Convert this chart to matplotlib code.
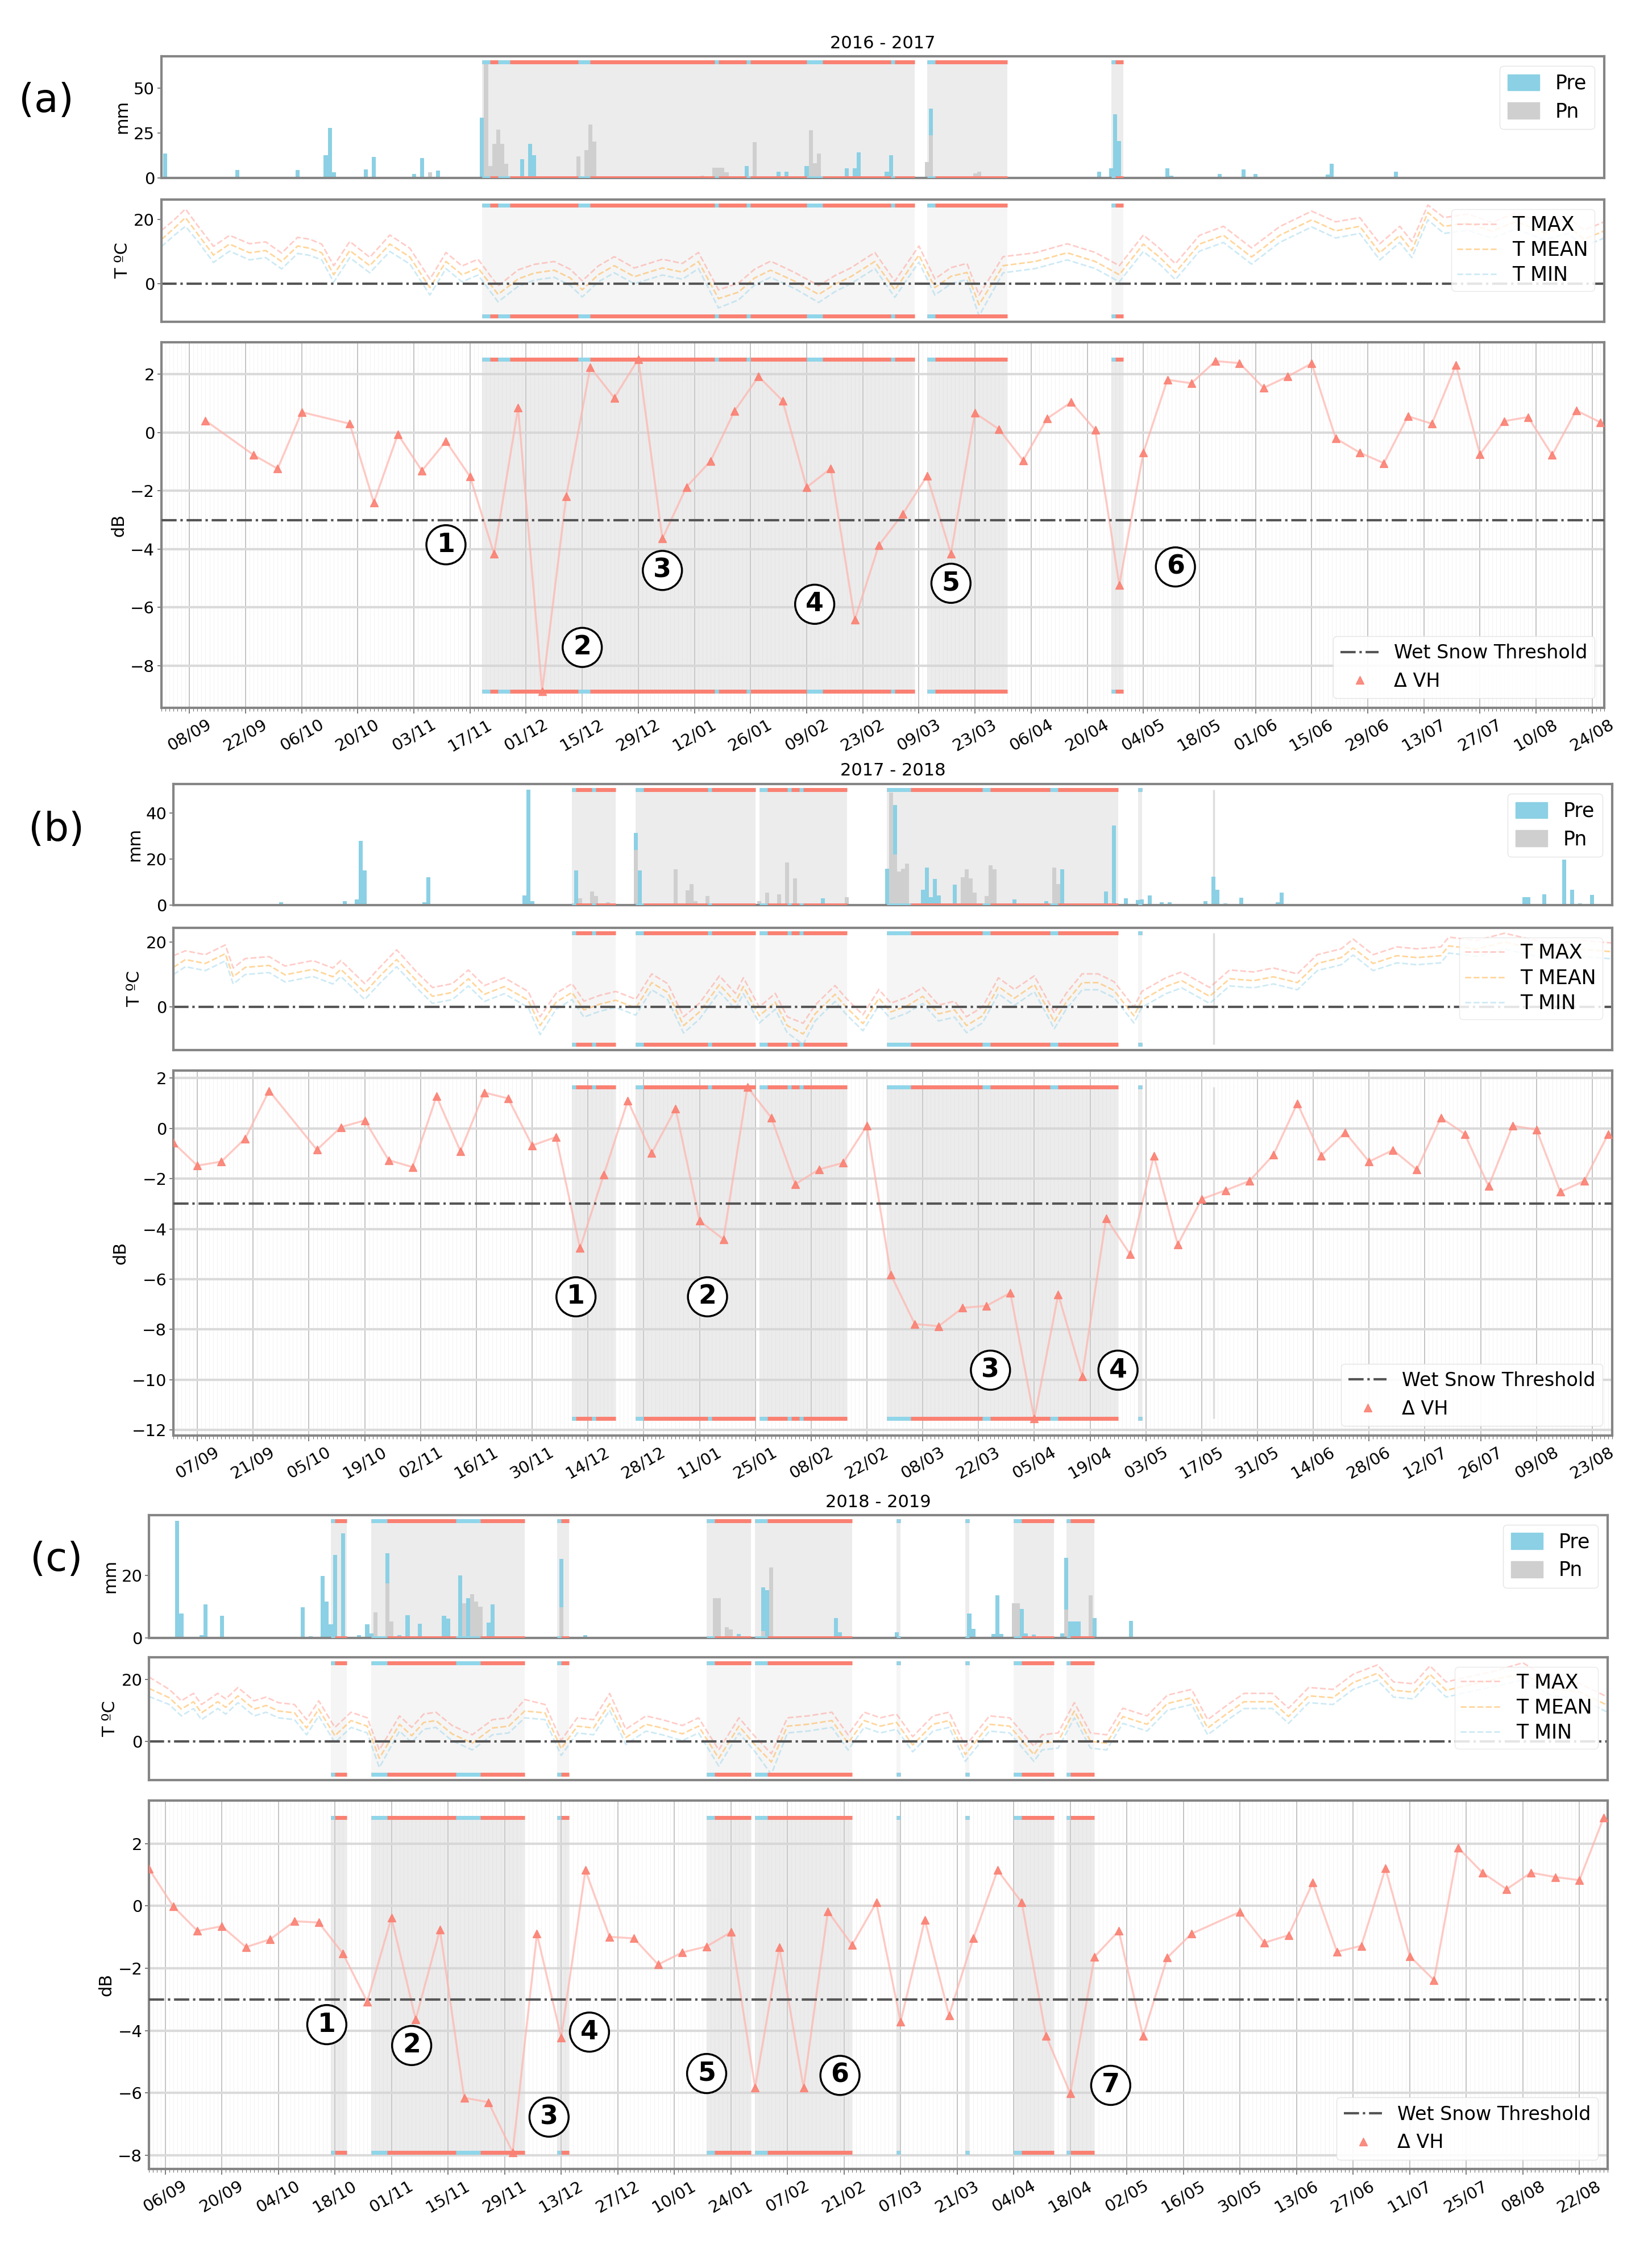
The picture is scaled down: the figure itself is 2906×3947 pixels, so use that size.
import matplotlib
matplotlib.use('Agg')
import matplotlib.pyplot as plt
import matplotlib.dates as mdates
from matplotlib.ticker import MultipleLocator, FixedLocator
from matplotlib.patches import Patch
from matplotlib.lines import Line2D
import pandas as pd

plt.rcParams['font.family'] = ['DejaVu Sans']

# ====================== DATA ======================
YEAR_TITLES = ['2016 - 2017', '2017 - 2018', '2018 - 2019']
PANEL_LABELS = ['(a)', '(b)', '(c)']
XLIMS = [('2016-09-01', '2017-08-27'), ('2017-09-01', '2018-08-28'), ('2018-09-02', '2019-08-29')]
TICK_STARTS = ['2016-09-08', '2017-09-07', '2018-09-06']
PRE_YTICKS = [[0, 25, 50], [0, 20, 40], [0, 20]]
T_YTICKS = [[0, 20], [0, 20], [0, 20]]
WET_SNOW_THRESHOLD = -3.0

# ---- (a) 2016-2017 ----
A_PRE_DATES = ['2016-09-02', '2016-09-20', '2016-10-05', '2016-10-12', '2016-10-13', '2016-10-14', '2016-10-22',
               '2016-10-24', '2016-11-03', '2016-11-05', '2016-11-09', '2016-11-20', '2016-11-30', '2016-12-02',
               '2016-12-03', '2017-01-25', '2017-02-02', '2017-02-04', '2017-02-09', '2017-02-19', '2017-02-21',
               '2017-02-22', '2017-03-01', '2017-03-02', '2017-03-12', '2017-04-23', '2017-04-26', '2017-04-27',
               '2017-04-28', '2017-05-10', '2017-05-11', '2017-05-23', '2017-05-29', '2017-06-01', '2017-06-19',
               '2017-06-20', '2017-07-06']
A_PRE = [13.6, 4.4, 4.4, 12.6, 27.7, 3.0, 4.7, 11.7, 2.0, 10.8, 3.9, 33.4, 10.4, 18.9, 12.6, 6.5, 3.5, 3.5, 6.5,
         5.3, 5.3, 14.1, 3.5, 12.6, 38.6, 3.3, 5.3, 35.4, 20.6, 5.3, 1.2, 2.1, 4.7, 2.0, 1.8, 7.9, 3.3]
A_PN_DATES = ['2016-11-07', '2016-11-21', '2016-11-22', '2016-11-23', '2016-11-24', '2016-11-25', '2016-11-26',
              '2016-12-14', '2016-12-16', '2016-12-17', '2016-12-18', '2017-01-14', '2017-01-17', '2017-01-18',
              '2017-01-19', '2017-01-20', '2017-01-27', '2017-02-10', '2017-02-11', '2017-02-12', '2017-03-11',
              '2017-03-12', '2017-03-23', '2017-03-24']
A_PN = [3.0, 64.5, 6.5, 19.0, 26.8, 19.0, 7.7, 12.0, 15.3, 29.7, 20.0, 1.0, 5.5, 5.5, 5.5, 3.0, 19.7, 26.5, 8.0,
        13.6, 8.8, 23.6, 2.4, 3.5]
A_T_DATES = ['2016-09-01', '2016-09-04', '2016-09-07', '2016-09-10', '2016-09-14', '2016-09-18', '2016-09-23',
             '2016-09-27', '2016-10-01', '2016-10-05', '2016-10-08', '2016-10-11', '2016-10-14', '2016-10-18',
             '2016-10-23', '2016-10-28', '2016-11-02', '2016-11-07', '2016-11-11', '2016-11-15', '2016-11-19',
             '2016-11-24', '2016-11-29', '2016-12-03', '2016-12-08', '2016-12-12', '2016-12-15', '2016-12-19',
             '2016-12-23', '2016-12-28', '2017-01-04', '2017-01-09', '2017-01-13', '2017-01-18', '2017-01-23',
             '2017-01-27', '2017-01-31', '2017-02-06', '2017-02-12', '2017-02-16', '2017-02-20', '2017-02-26',
             '2017-03-03', '2017-03-09', '2017-03-13', '2017-03-17', '2017-03-21', '2017-03-24', '2017-03-30',
             '2017-04-07', '2017-04-15', '2017-04-22', '2017-04-28', '2017-05-04', '2017-05-08', '2017-05-12',
             '2017-05-18', '2017-05-24', '2017-05-31', '2017-06-07', '2017-06-15', '2017-06-21', '2017-06-27',
             '2017-07-02', '2017-07-07', '2017-07-10', '2017-07-14', '2017-07-18', '2017-07-24', '2017-07-30',
             '2017-08-05', '2017-08-12', '2017-08-18', '2017-08-22', '2017-08-27']
A_TMAX = [16.5, 19.6, 23.2, 18.1, 11.6, 15.0, 12.4, 13.0, 9.5, 14.4, 13.8, 12.3, 5.6, 13.1, 8.2, 15.1, 11.0, 1.4,
          9.7, 5.5, 7.6, -0.7, 4.3, 6.0, 6.9, 4.5, 0.9, 5.5, 8.4, 4.9, 7.6, 6.3, 9.7, -1.9, 0.2, 4.5, 7.0, 3.5,
          -0.6, 2.5, 4.9, 9.7, 0.8, 11.7, 1.5, 5.0, 6.3, -3.5, 8.4, 9.6, 12.4, 9.7, 5.6, 15.1, 11.0, 6.2, 15.0,
          17.8, 11.1, 17.7, 22.5, 19.2, 20.5, 12.4, 17.8, 13.1, 24.4, 20.5, 21.6, 19.0, 22.0, 18.6, 20.5, 16.6, 19.2]
A_TMEAN = [13.7, 17.0, 20.5, 15.5, 8.9, 12.3, 9.6, 10.3, 6.9, 11.7, 11.0, 9.6, 2.8, 10.3, 5.6, 12.3, 8.3, -1.2,
           6.9, 2.8, 4.9, -3.3, 1.5, 3.3, 4.2, 1.8, -1.9, 2.8, 5.6, 2.2, 4.9, 3.6, 6.9, -4.6, -2.6, 1.8, 4.2, 0.8,
           -3.3, -0.2, 2.2, 6.9, -1.9, 8.9, -1.2, 2.3, 3.5, -6.5, 5.6, 6.9, 9.6, 6.9, 2.8, 12.3, 8.3, 3.5, 12.3,
           15.0, 8.3, 15.0, 19.8, 16.4, 17.8, 9.6, 15.0, 10.3, 22.1, 17.8, 18.8, 16.3, 19.3, 15.8, 17.8, 13.8, 16.4]
A_TMIN = [11.5, 14.8, 17.8, 13.3, 6.6, 10.1, 7.4, 8.1, 4.6, 9.4, 8.8, 7.4, 0.5, 8.1, 3.4, 10.0, 6.1, -3.5, 4.7,
          0.6, 2.7, -5.6, -0.8, 1.1, 2.0, -0.5, -4.1, 0.6, 3.4, 0.0, 2.7, 1.4, 4.7, -7.5, -5.0, -0.4, 2.0, -1.5,
          -5.8, -2.5, 0.0, 4.7, -4.2, 6.7, -3.5, 0.0, 1.3, -10.0, 3.4, 4.7, 7.4, 4.7, 0.6, 10.0, 6.1, 1.3, 10.1,
          12.8, 6.1, 12.8, 17.6, 14.2, 15.6, 7.4, 12.8, 8.1, 19.8, 15.6, 16.6, 14.1, 17.0, 13.6, 15.6, 11.6, 14.2]
A_S1_DATES = ['2016-09-12', '2016-09-24', '2016-09-30', '2016-10-06', '2016-10-18', '2016-10-24', '2016-10-30',
              '2016-11-05', '2016-11-11', '2016-11-17', '2016-11-23', '2016-11-29', '2016-12-05', '2016-12-11',
              '2016-12-17', '2016-12-23', '2016-12-29', '2017-01-04', '2017-01-10', '2017-01-16', '2017-01-22',
              '2017-01-28', '2017-02-03', '2017-02-09', '2017-02-15', '2017-02-21', '2017-02-27', '2017-03-05',
              '2017-03-11', '2017-03-17', '2017-03-23', '2017-03-29', '2017-04-04', '2017-04-10', '2017-04-16',
              '2017-04-22', '2017-04-28', '2017-05-04', '2017-05-10', '2017-05-16', '2017-05-22', '2017-05-28',
              '2017-06-03', '2017-06-09', '2017-06-15', '2017-06-21', '2017-06-27', '2017-07-03', '2017-07-09',
              '2017-07-15', '2017-07-21', '2017-07-27', '2017-08-02', '2017-08-08', '2017-08-14', '2017-08-20',
              '2017-08-26']
A_DVH = [0.41, -0.77, -1.24, 0.70, 0.30, -2.40, -0.06, -1.31, -0.30, -1.51, -4.16, 0.85, -8.87, -2.19, 2.24,
         1.19, 2.52, -3.64, -1.87, -0.98, 0.74, 1.92, 1.09, -1.88, -1.23, -6.42, -3.87, -2.79, -1.49, -4.15,
         0.67, 0.11, -0.96, 0.48, 1.04, 0.09, -5.23, -0.69, 1.81, 1.69, 2.45, 2.38, 1.53, 1.92, 2.37, -0.20,
         -0.69, -1.05, 0.56, 0.30, 2.32, -0.75, 0.39, 0.53, -0.77, 0.76, 0.35]
A_SNOW = [('2016-11-20', '2017-03-08'), ('2017-03-11', '2017-03-31'), ('2017-04-26', '2017-04-29')]
A_CYAN = [('2016-11-20', '2016-11-22'), ('2016-11-24', '2016-11-27'), ('2016-12-14', '2016-12-17'),
          ('2017-01-17', '2017-01-18'), ('2017-01-25', '2017-01-26'), ('2017-02-09', '2017-02-13'),
          ('2017-03-02', '2017-03-03'), ('2017-03-11', '2017-03-13'), ('2017-04-26', '2017-04-27')]
A_FAINT = []
A_CIRCLES = [('1', '2016-11-11', -3.85), ('2', '2016-12-15', -7.37), ('3', '2017-01-04', -4.73),
             ('4', '2017-02-11', -5.89), ('5', '2017-03-17', -5.17), ('6', '2017-05-12', -4.61)]

# ---- (b) 2017-2018 ----
B_PRE_DATES = ['2017-09-28', '2017-10-02', '2017-10-14', '2017-10-17', '2017-10-18', '2017-10-19', '2017-11-03',
               '2017-11-04', '2017-11-28', '2017-11-29', '2017-11-30', '2017-12-11', '2017-12-26', '2017-12-27',
               '2018-02-11', '2018-02-27', '2018-03-01', '2018-03-08', '2018-03-09', '2018-03-10', '2018-03-11',
               '2018-03-12', '2018-03-16', '2018-03-31', '2018-04-08', '2018-04-12', '2018-04-23', '2018-04-25',
               '2018-04-28', '2018-05-01', '2018-05-02', '2018-05-04', '2018-05-07', '2018-05-09', '2018-05-18',
               '2018-05-20', '2018-05-21', '2018-05-23', '2018-05-27', '2018-06-05', '2018-06-06', '2018-08-06',
               '2018-08-07', '2018-08-11', '2018-08-16', '2018-08-18', '2018-08-20', '2018-08-23']
B_PRE = [1.1, 0.4, 1.8, 2.5, 27.8, 15.0, 1.3, 12.1, 4.2, 50.2, 1.7, 15.1, 31.4, 15.0, 2.9, 15.9, 43.5, 6.7,
         16.3, 3.3, 11.3, 4.2, 8.8, 2.5, 1.7, 15.6, 5.9, 34.6, 2.9, 2.1, 2.5, 4.2, 1.1, 1.1, 1.7, 12.3, 6.7, 0.8,
         3.1, 1.3, 5.3, 3.3, 3.3, 4.6, 19.7, 6.7, 0.8, 4.4]
B_PN_DATES = ['2017-12-12', '2017-12-15', '2017-12-16', '2017-12-19', '2017-12-26', '2018-01-05', '2018-01-08',
              '2018-01-09', '2018-01-10', '2018-01-13', '2018-01-26', '2018-01-28', '2018-01-31', '2018-02-02',
              '2018-02-04', '2018-02-17', '2018-02-28', '2018-03-01', '2018-03-02', '2018-03-03', '2018-03-04',
              '2018-03-18', '2018-03-19', '2018-03-20', '2018-03-21', '2018-03-24', '2018-03-25', '2018-03-26',
              '2018-04-10', '2018-04-11']
B_PN = [3.0, 5.9, 3.8, 1.3, 24.0, 15.6, 6.3, 9.2, 1.7, 3.8, 1.7, 5.3, 4.6, 18.4, 11.5, 3.3, 49.0, 22.0, 14.6,
        15.9, 18.0, 12.1, 15.6, 11.5, 5.4, 3.8, 17.2, 15.6, 16.3, 9.2]
B_T_DATES = ['2017-09-01', '2017-09-04', '2017-09-09', '2017-09-14', '2017-09-16', '2017-09-19', '2017-09-25',
             '2017-09-29', '2017-10-06', '2017-10-11', '2017-10-13', '2017-10-19', '2017-10-23', '2017-10-27',
             '2017-11-01', '2017-11-05', '2017-11-10', '2017-11-14', '2017-11-18', '2017-11-23', '2017-11-29',
             '2017-12-02', '2017-12-06', '2017-12-10', '2017-12-13', '2017-12-17', '2017-12-21', '2017-12-26',
             '2017-12-30', '2018-01-03', '2018-01-07', '2018-01-11', '2018-01-16', '2018-01-20', '2018-01-22',
             '2018-01-26', '2018-01-30', '2018-02-02', '2018-02-06', '2018-02-09', '2018-02-14', '2018-02-17',
             '2018-02-21', '2018-02-25', '2018-02-28', '2018-03-04', '2018-03-08', '2018-03-12', '2018-03-16',
             '2018-03-19', '2018-03-23', '2018-03-27', '2018-03-31', '2018-04-05', '2018-04-09', '2018-04-10',
             '2018-04-13', '2018-04-17', '2018-04-21', '2018-04-25', '2018-04-30', '2018-05-02', '2018-05-08',
             '2018-05-12', '2018-05-19', '2018-05-24', '2018-05-30', '2018-06-04', '2018-06-10', '2018-06-15',
             '2018-06-21', '2018-06-24', '2018-06-29', '2018-07-05', '2018-07-10', '2018-07-16', '2018-07-18',
             '2018-07-25', '2018-08-01', '2018-08-07', '2018-08-14', '2018-08-20', '2018-08-28']
B_TMAX = [15.8, 17.3, 16.1, 19.1, 12.0, 14.9, 15.5, 12.6, 14.3, 12.0, 14.3, 7.2, 12.5, 17.6, 10.8, 6.0, 7.2,
          11.4, 6.6, 9.0, 4.8, -3.0, 4.2, 7.2, 1.8, 3.6, 4.8, 2.4, 10.2, 7.2, -3.0, 1.2, 9.6, 4.2, 9.0, 0.0, 4.2,
          -3.0, -5.0, 0.6, 6.6, 2.4, -2.4, 5.4, 1.2, 3.0, 6.0, 0.6, 1.8, -3.0, 0.0, 9.0, 5.4, 9.6, 0.6, -1.8,
          4.2, 10.2, 10.2, 7.8, 0.0, 4.8, 9.0, 10.8, 6.0, 11.4, 10.8, 12.0, 10.2, 16.1, 17.9, 20.9, 16.1, 18.5,
          17.9, 18.5, 21.5, 20.5, 22.7, 21.0, 19.5, 20.5, 19.7]
B_TMEAN = [12.2, 14.6, 13.4, 16.4, 9.3, 12.2, 12.8, 9.9, 11.6, 9.3, 11.6, 4.5, 9.8, 14.6, 8.1, 3.3, 4.5, 8.7,
           3.9, 6.3, 2.1, -5.7, 1.5, 4.5, -0.9, 0.9, 2.1, -0.3, 7.5, 4.5, -5.7, -1.5, 6.9, 1.5, 6.3, -2.7, 1.5,
           -5.7, -8.3, -2.1, 3.9, -0.3, -5.1, 2.7, -1.5, 0.3, 3.3, -2.1, -0.9, -5.7, -2.7, 6.3, 2.7, 6.9, -2.1,
           -4.5, 1.5, 7.5, 7.5, 5.1, -2.7, 2.1, 6.3, 8.1, 3.3, 8.7, 8.1, 9.3, 7.5, 13.4, 15.2, 18.2, 13.4, 15.8,
           15.2, 15.8, 18.8, 17.8, 20.0, 18.3, 16.8, 17.8, 17.0]
B_TMIN = [10.0, 12.4, 11.2, 14.2, 7.1, 10.0, 10.6, 7.7, 9.4, 7.1, 9.4, 2.3, 7.6, 12.4, 5.9, 1.1, 2.3, 6.5, 1.7,
          4.1, -0.1, -8.5, -0.7, 2.3, -3.1, -1.3, -0.1, -2.5, 5.3, 2.3, -8.0, -3.7, 4.7, -0.7, 4.1, -4.9, -0.7,
          -7.9, -11.5, -4.3, 1.7, -2.5, -7.3, 0.5, -3.7, -1.9, 1.1, -4.3, -3.1, -7.9, -4.9, 4.1, 0.5, 4.7, -4.3,
          -6.7, -0.7, 5.3, 5.3, 2.9, -4.9, -0.1, 4.1, 5.9, 1.1, 6.5, 5.9, 7.1, 5.3, 11.2, 13.0, 16.0, 11.2, 13.6,
          13.0, 13.6, 16.6, 15.6, 17.8, 16.1, 14.6, 15.6, 14.8]
B_S1_DATES = ['2017-09-01', '2017-09-07', '2017-09-13', '2017-09-19', '2017-09-25', '2017-10-07', '2017-10-13',
              '2017-10-19', '2017-10-25', '2017-10-31', '2017-11-06', '2017-11-12', '2017-11-18', '2017-11-24',
              '2017-11-30', '2017-12-06', '2017-12-12', '2017-12-18', '2017-12-24', '2017-12-30', '2018-01-05',
              '2018-01-11', '2018-01-17', '2018-01-23', '2018-01-29', '2018-02-04', '2018-02-10', '2018-02-16',
              '2018-02-22', '2018-02-28', '2018-03-06', '2018-03-12', '2018-03-18', '2018-03-24', '2018-03-30',
              '2018-04-05', '2018-04-11', '2018-04-17', '2018-04-23', '2018-04-29', '2018-05-05', '2018-05-11',
              '2018-05-17', '2018-05-23', '2018-05-29', '2018-06-04', '2018-06-10', '2018-06-16', '2018-06-22',
              '2018-06-28', '2018-07-04', '2018-07-10', '2018-07-16', '2018-07-22', '2018-07-28', '2018-08-03',
              '2018-08-09', '2018-08-15', '2018-08-21', '2018-08-27']
B_DVH = [-0.57, -1.48, -1.32, -0.40, 1.50, -0.85, 0.05, 0.32, -1.26, -1.54, 1.28, -0.90, 1.43, 1.19, -0.68,
         -0.34, -4.76, -1.83, 1.10, -0.98, 0.79, -3.68, -4.41, 1.65, 0.43, -2.22, -1.63, -1.37, 0.11, -5.82,
         -7.78, -7.87, -7.14, -7.06, -6.54, -11.55, -6.60, -9.87, -3.57, -5.00, -1.08, -4.62, -2.81, -2.46,
         -2.09, -1.05, 1.00, -1.08, -0.16, -1.32, -0.86, -1.64, 0.43, -0.22, -2.30, 0.11, -0.05, -2.52, -2.09,
         -0.22]
B_SNOW = [('2017-12-10', '2017-12-21'), ('2017-12-26', '2018-01-25'), ('2018-01-26', '2018-02-17'),
          ('2018-02-27', '2018-04-26'), ('2018-05-01', '2018-05-02')]
B_CYAN = [('2017-12-10', '2017-12-11'), ('2017-12-15', '2017-12-16'), ('2017-12-26', '2017-12-28'),
          ('2018-01-13', '2018-01-14'), ('2018-01-26', '2018-01-28'), ('2018-02-02', '2018-02-03'),
          ('2018-02-05', '2018-02-06'), ('2018-02-27', '2018-03-05'), ('2018-03-23', '2018-03-25'),
          ('2018-04-09', '2018-04-11'), ('2018-05-01', '2018-05-02')]
B_FAINT = ['2018-05-20']
B_CIRCLES = [('1', '2017-12-11', -6.7), ('2', '2018-01-13', -6.7), ('3', '2018-03-25', -9.62),
             ('4', '2018-04-26', -9.62)]

# ---- (c) 2018-2019 ----
C_PRE_DATES = ['2018-09-09', '2018-09-10', '2018-09-15', '2018-09-16', '2018-09-20', '2018-10-10', '2018-10-12',
               '2018-10-15', '2018-10-16', '2018-10-17', '2018-10-18', '2018-10-20', '2018-10-24', '2018-10-26',
               '2018-10-27', '2018-10-31', '2018-11-03', '2018-11-05', '2018-11-08', '2018-11-14', '2018-11-15',
               '2018-11-18', '2018-11-20', '2018-11-25', '2018-11-26', '2018-12-13', '2018-12-19', '2019-01-20',
               '2019-01-26', '2019-02-01', '2019-02-02', '2019-02-19', '2019-02-20', '2019-03-06', '2019-03-24',
               '2019-03-25', '2019-03-30', '2019-03-31', '2019-04-01', '2019-04-06', '2019-04-07', '2019-04-09',
               '2019-04-16', '2019-04-17', '2019-04-18', '2019-04-19', '2019-04-20', '2019-04-23', '2019-04-24',
               '2019-05-03', '2019-07-20', '2019-07-27']
C_PRE = [37.5, 7.9, 0.9, 10.7, 7.0, 9.8, 0.5, 19.8, 11.6, 4.3, 26.6, 33.5, 0.9, 4.3, 1.5, 27.1, 0.9, 7.3, 4.6,
         7.1, 6.1, 20.1, 12.8, 4.9, 10.7, 25.3, 0.9, 6.4, 1.2, 16.2, 15.2, 6.4, 1.8, 1.8, 7.9, 2.9, 1.2, 13.7,
         1.2, 9.3, 1.4, 1.0, 1.5, 25.6, 5.2, 5.2, 5.2, 6.4, 6.4, 5.5, 0.3, 0.4]
C_PN_DATES = ['2018-10-28', '2018-10-31', '2018-11-01', '2018-11-19', '2018-11-21', '2018-11-22', '2018-11-23',
              '2018-12-13', '2019-01-20', '2019-01-21', '2019-01-23', '2019-01-24', '2019-02-01', '2019-02-03',
              '2019-04-04', '2019-04-05', '2019-04-17', '2019-04-23']
C_PN = [8.2, 17.4, 5.2, 11.0, 14.0, 11.6, 10.0, 9.8, 12.8, 12.8, 3.4, 2.7, 2.1, 22.6, 11.0, 11.0, 9.1, 13.7]
C_T_DATES = ['2018-09-02', '2018-09-07', '2018-09-10', '2018-09-13', '2018-09-15', '2018-09-19', '2018-09-21',
             '2018-09-24', '2018-09-28', '2018-10-01', '2018-10-04', '2018-10-08', '2018-10-11', '2018-10-14',
             '2018-10-18', '2018-10-22', '2018-10-26', '2018-10-29', '2018-11-03', '2018-11-06', '2018-11-09',
             '2018-11-12', '2018-11-16', '2018-11-21', '2018-11-26', '2018-11-30', '2018-12-04', '2018-12-09',
             '2018-12-13', '2018-12-17', '2018-12-21', '2018-12-25', '2018-12-29', '2019-01-03', '2019-01-07',
             '2019-01-12', '2019-01-16', '2019-01-21', '2019-01-26', '2019-01-30', '2019-02-03', '2019-02-07',
             '2019-02-12', '2019-02-18', '2019-02-22', '2019-02-26', '2019-03-02', '2019-03-06', '2019-03-10',
             '2019-03-15', '2019-03-19', '2019-03-23', '2019-03-29', '2019-04-03', '2019-04-09', '2019-04-11',
             '2019-04-15', '2019-04-19', '2019-04-23', '2019-04-27', '2019-05-01', '2019-05-07', '2019-05-12',
             '2019-05-18', '2019-05-22', '2019-05-27', '2019-05-31', '2019-06-07', '2019-06-11', '2019-06-16',
             '2019-06-22', '2019-06-27', '2019-07-03', '2019-07-07', '2019-07-12', '2019-07-16', '2019-07-20',
             '2019-07-25', '2019-08-01', '2019-08-08', '2019-08-15', '2019-08-22', '2019-08-29']
C_TMAX = [20.8, 16.8, 13.1, 15.5, 11.9, 15.5, 13.7, 17.4, 13.1, 14.3, 12.5, 11.9, 7.0, 13.1, 4.5, 9.4, 7.6,
          -2.8, 8.2, 4.5, 8.8, 9.4, 5.1, 2.1, 7.0, 7.6, 13.5, 11.9, 0.3, 7.6, 7.0, 15.5, 3.9, 8.2, 7.0, 5.1, 7.6,
          -2.8, 7.6, 1.5, -4.0, 7.6, 8.2, 9.4, 2.1, 9.4, 7.6, 8.8, 1.5, 8.2, 9.4, -1.6, 8.2, 7.6, -1.6, 2.1, 2.7,
          12.5, 2.7, 2.1, 10.7, 8.2, 14.9, 16.8, 7.0, 11.9, 15.5, 15.5, 10.7, 17.4, 16.8, 21.7, 24.7, 19.2, 18.6,
          24.4, 19.2, 20.7, 22.7, 25.4, 19.7, 18.7, 14.3]
C_TMEAN = [17.1, 14.1, 10.4, 12.8, 9.2, 12.8, 11.0, 14.7, 10.4, 11.6, 9.8, 9.2, 4.3, 10.4, 1.8, 6.7, 4.9, -5.5,
           5.5, 1.8, 6.1, 6.7, 2.4, -0.6, 4.3, 4.9, 9.8, 9.2, -2.4, 4.9, 4.3, 12.2, 1.2, 5.5, 4.3, 2.4, 4.9, -5.5,
           4.9, -1.2, -6.7, 4.9, 5.5, 6.7, -0.6, 6.7, 4.9, 6.1, -1.2, 5.5, 6.7, -4.3, 5.5, 4.9, -4.3, -0.6, 0.0,
           9.8, 0.0, -0.6, 8.0, 5.5, 12.2, 14.1, 4.3, 9.2, 12.8, 12.8, 8.0, 14.7, 14.1, 19.0, 22.0, 16.5, 15.9,
           21.7, 16.5, 18.0, 20.0, 22.0, 17.0, 16.0, 11.6]
C_TMIN = [14.5, 11.9, 8.2, 10.6, 7.0, 10.6, 8.8, 12.5, 8.2, 9.4, 7.6, 7.0, 2.1, 8.2, -0.4, 4.5, 2.7, -8.5, 3.3,
          -0.4, 3.9, 4.5, 0.2, -2.8, 2.1, 2.7, 7.6, 7.0, -4.6, 2.7, 2.1, 10.0, -1.0, 3.3, 2.1, 0.2, 2.7, -8.0,
          2.7, -3.4, -10.7, 2.7, 3.3, 4.5, -2.8, 4.5, 2.7, 3.9, -3.4, 3.3, 4.5, -6.5, 3.3, 2.7, -6.5, -2.8, -2.2,
          7.6, -2.2, -2.8, 5.8, 3.3, 10.0, 11.9, 2.1, 7.0, 10.6, 10.6, 5.8, 12.5, 11.9, 16.8, 19.8, 14.3, 13.7,
          19.5, 14.3, 15.8, 17.8, 19.8, 14.8, 13.8, 9.4]
C_S1_DATES = ['2018-09-02', '2018-09-08', '2018-09-14', '2018-09-20', '2018-09-26', '2018-10-02', '2018-10-08',
              '2018-10-14', '2018-10-20', '2018-10-26', '2018-11-01', '2018-11-07', '2018-11-13', '2018-11-19',
              '2018-11-25', '2018-12-01', '2018-12-07', '2018-12-13', '2018-12-19', '2018-12-25', '2018-12-31',
              '2019-01-06', '2019-01-12', '2019-01-18', '2019-01-24', '2019-01-30', '2019-02-05', '2019-02-11',
              '2019-02-17', '2019-02-23', '2019-03-01', '2019-03-07', '2019-03-13', '2019-03-19', '2019-03-25',
              '2019-03-31', '2019-04-06', '2019-04-12', '2019-04-18', '2019-04-24', '2019-04-30', '2019-05-06',
              '2019-05-12', '2019-05-18', '2019-05-30', '2019-06-05', '2019-06-11', '2019-06-17', '2019-06-23',
              '2019-06-29', '2019-07-05', '2019-07-11', '2019-07-17', '2019-07-23', '2019-07-29', '2019-08-04',
              '2019-08-10', '2019-08-16', '2019-08-22', '2019-08-28']
C_DVH = [1.19, -0.01, -0.80, -0.65, -1.32, -1.07, -0.49, -0.53, -1.53, -3.07, -0.37, -3.64, -0.76, -6.16,
         -6.30, -7.91, -0.89, -4.22, 1.15, -0.99, -1.04, -1.88, -1.49, -1.30, -0.84, -5.83, -1.32, -5.84, -0.17,
         -1.25, 0.11, -3.72, -0.44, -3.51, -1.04, 1.15, 0.11, -4.17, -6.02, -1.63, -0.80, -4.18, -1.66, -0.89,
         -0.19, -1.18, -0.94, 0.75, -1.47, -1.28, 1.21, -1.61, -2.38, 1.87, 1.07, 0.54, 1.07, 0.93, 0.83, 2.84]
C_SNOW = [('2018-10-17', '2018-10-21'), ('2018-10-27', '2018-12-04'), ('2018-12-12', '2018-12-15'),
          ('2019-01-18', '2019-01-29'), ('2019-01-30', '2019-02-23'), ('2019-03-06', '2019-03-07'),
          ('2019-03-23', '2019-03-24'), ('2019-04-04', '2019-04-14'), ('2019-04-17', '2019-04-24')]
C_CYAN = [('2018-10-17', '2018-10-18'), ('2018-10-27', '2018-10-31'), ('2018-11-17', '2018-11-23'),
          ('2018-12-12', '2018-12-13'), ('2019-01-18', '2019-01-20'), ('2019-01-30', '2019-02-02'),
          ('2019-03-06', '2019-03-07'), ('2019-03-23', '2019-03-24'), ('2019-04-04', '2019-04-06'),
          ('2019-04-17', '2019-04-18')]
C_FAINT = []
C_CIRCLES = [('1', '2018-10-16', -3.81), ('2', '2018-11-06', -4.48), ('3', '2018-12-10', -6.78),
             ('4', '2018-12-20', -4.05), ('5', '2019-01-18', -5.38), ('6', '2019-02-20', -5.44),
             ('7', '2019-04-28', -5.76)]

# ====================== STYLE / LAYOUT ======================
COL_PRE = '#8bd0e4'
COL_PN = '#cfcfcf'
COL_RED = '#fa8072'
COL_CYAN = '#8fd6ea'
COL_SHADE = '#d3d3d3'
COL_TMAX = '#ff8f84'
COL_TMEAN = '#ffae3a'
COL_TMIN = '#84cbe6'
COL_DASH = '#555555'
COL_SPINE = '#858585'
FS_TICK = 21
FS_LAB = 22
FS_LEG = 25

RECTS = [
    [(0.0977, 0.9208, 0.8734, 0.0542), (0.0977, 0.8567, 0.8734, 0.0544), (0.0977, 0.6846, 0.8734, 0.1628)],
    [(0.1050, 0.5967, 0.8709, 0.0540), (0.1050, 0.5321, 0.8709, 0.0545), (0.1050, 0.3604, 0.8709, 0.1626)],
    [(0.0902, 0.2701, 0.8830, 0.0548), (0.0902, 0.2068, 0.8830, 0.0547), (0.0902, 0.0334, 0.8830, 0.1641)],
]
TITLE_Y = [0.9807, 0.6567, 0.3304]
LABEL_XY = [(0.028, 0.955), (0.034, 0.6303), (0.034, 0.3049)]

PANELS = [
    dict(pre_d=A_PRE_DATES, pre=A_PRE, pn_d=A_PN_DATES, pn=A_PN, t_d=A_T_DATES, tmax=A_TMAX, tmean=A_TMEAN,
         tmin=A_TMIN, s1_d=A_S1_DATES, dvh=A_DVH, snow=A_SNOW, cyan=A_CYAN, faint=A_FAINT, circles=A_CIRCLES),
    dict(pre_d=B_PRE_DATES, pre=B_PRE, pn_d=B_PN_DATES, pn=B_PN, t_d=B_T_DATES, tmax=B_TMAX, tmean=B_TMEAN,
         tmin=B_TMIN, s1_d=B_S1_DATES, dvh=B_DVH, snow=B_SNOW, cyan=B_CYAN, faint=B_FAINT, circles=B_CIRCLES),
    dict(pre_d=C_PRE_DATES, pre=C_PRE, pn_d=C_PN_DATES, pn=C_PN, t_d=C_T_DATES, tmax=C_TMAX, tmean=C_TMEAN,
         tmin=C_TMIN, s1_d=C_S1_DATES, dvh=C_DVH, snow=C_SNOW, cyan=C_CYAN, faint=C_FAINT, circles=C_CIRCLES),
]


def style_axes(ax):
    for s in ax.spines.values():
        s.set_color(COL_SPINE)
        s.set_linewidth(3)
    ax.tick_params(axis='y', labelsize=FS_TICK, length=5, width=1.2, color='#666666')
    ax.set_facecolor('white')


def draw_band(ax, snow, cyan, faint, lo, hi, alpha):
    for s, e in snow:
        s, e = pd.Timestamp(s), pd.Timestamp(e)
        ax.fill_between([s, e], [lo, lo], [hi, hi], color=COL_SHADE, alpha=alpha, lw=0, zorder=1)
        ax.hlines([lo, hi], s, e, colors=COL_RED, lw=5, zorder=3)
    for s, e in cyan:
        ax.hlines([lo, hi], pd.Timestamp(s), pd.Timestamp(e), colors=COL_CYAN, lw=5, zorder=3.1)
    for f in faint:
        ax.vlines(pd.Timestamp(f), lo, hi, colors='#dedede', lw=2.5, zorder=1)


W, H = 2906, 3947
fig = plt.figure(figsize=(W / 100, H / 100), dpi=100)

for i, P in enumerate(PANELS):
    x0, x1 = pd.Timestamp(XLIMS[i][0]), pd.Timestamp(XLIMS[i][1])
    ticks = pd.date_range(TICK_STARTS[i], x1, freq='14D')

    # ---------- precipitation ----------
    axp = fig.add_axes(RECTS[i][0])
    style_axes(axp)
    axp.bar(pd.to_datetime(P['pre_d']), P['pre'], width=1.0, color=COL_PRE, label='Pre', zorder=2)
    axp.bar(pd.to_datetime(P['pn_d']), P['pn'], width=1.0, color=COL_PN, label='Pn', zorder=2.1)
    hi = max(max(P['pre']), max(P['pn']))
    draw_band(axp, P['snow'], P['cyan'], P['faint'], 0, hi, 0.42)
    axp.set_xlim(x0, x1)
    axp.set_ylim(0, hi * 1.05)
    axp.set_xticks([])
    axp.yaxis.set_major_locator(FixedLocator(PRE_YTICKS[i]))
    axp.set_ylabel('mm', fontsize=FS_LAB)
    axp.legend(handles=[Patch(color=COL_PRE, label='Pre'), Patch(color=COL_PN, label='Pn')],
               loc='upper right', fontsize=FS_LEG, frameon=True, edgecolor='#e2e2e2', framealpha=0.9,
               handlelength=1.6, handleheight=0.9, labelspacing=0.45)

    # ---------- temperature ----------
    axt = fig.add_axes(RECTS[i][1])
    style_axes(axt)
    td = pd.to_datetime(P['t_d'])
    axt.plot(td, P['tmax'], ls='--', color=COL_TMAX, alpha=0.45, lw=2, label='T MAX', zorder=2)
    axt.plot(td, P['tmean'], ls='--', color=COL_TMEAN, alpha=0.5, lw=2, label='T MEAN', zorder=2)
    axt.plot(td, P['tmin'], ls='--', color=COL_TMIN, alpha=0.4, lw=2, label='T MIN', zorder=2)
    axt.axhline(0, ls='-.', color=COL_DASH, lw=3, zorder=2.5)
    tlo, thi = min(P['tmin']), max(P['tmax'])
    draw_band(axt, P['snow'], P['cyan'], P['faint'], tlo, thi, 0.22)
    axt.set_xlim(x0, x1)
    pad = 0.05 * (thi - tlo)
    axt.set_ylim(tlo - pad, thi + pad)
    axt.set_xticks([])
    axt.yaxis.set_major_locator(FixedLocator(T_YTICKS[i]))
    axt.set_ylabel('T ºC', fontsize=FS_LAB)
    axt.legend(loc='upper right', fontsize=FS_LEG, frameon=True, edgecolor='#e6e6e6', framealpha=0.85,
               handlelength=2.0, labelspacing=0.3, borderpad=0.3)

    # ---------- backscatter ----------
    axd = fig.add_axes(RECTS[i][2])
    style_axes(axd)
    axd.set_axisbelow(True)
    sd = pd.to_datetime(P['s1_d'])
    dlo, dhi = min(P['dvh']), max(P['dvh'])
    draw_band(axd, P['snow'], P['cyan'], P['faint'], dlo, dhi, 0.42)
    axd.plot(sd, P['dvh'], color='#ffb3ac', lw=2.5, alpha=0.7, zorder=4)
    axd.plot(sd, P['dvh'], ls='none', marker='^', ms=10, color=COL_RED, alpha=0.9, zorder=5)
    axd.axhline(WET_SNOW_THRESHOLD, ls='-.', color=COL_DASH, lw=3, zorder=4.5)
    axd.set_xlim(x0, x1)
    pad = 0.05 * (dhi - dlo)
    axd.set_ylim(dlo - pad, dhi + pad)
    axd.yaxis.set_major_locator(MultipleLocator(2))
    axd.set_xticks(ticks)
    axd.set_xticklabels([t.strftime('%d/%m') for t in ticks], rotation=30, ha='center', fontsize=FS_TICK)
    axd.xaxis.set_minor_locator(mdates.DayLocator())
    axd.tick_params(axis='x', which='major', length=7, width=1.2, color='#666666', pad=4)
    axd.tick_params(axis='x', which='minor', length=4, width=0.8, color='#777777')
    axd.grid(True, which='major', axis='x', color='#c4c4c4', lw=1.4)
    axd.grid(True, which='minor', axis='x', color='#f4f4f4', lw=0.8)
    axd.grid(True, which='major', axis='y', color='#dadada', lw=3)
    axd.set_ylabel('dB', fontsize=FS_LAB)
    h1 = Line2D([], [], ls='-.', color=COL_DASH, lw=3)
    h2 = Line2D([], [], ls='none', marker='^', ms=10, color=COL_RED, alpha=0.9)
    axd.legend([h1, h2], ['Wet Snow Threshold', 'Δ VH'], loc='lower right', fontsize=FS_LEG - 1, frameon=True,
               edgecolor='#e2e2e2', framealpha=0.9)
    for lab, dt, v in P['circles']:
        axd.text(pd.Timestamp(dt), v, lab, fontsize=33, fontweight='bold', ha='center', va='center', zorder=7,
                 bbox=dict(boxstyle='circle,pad=0.26', fc='white', ec='black', lw=2.5))

    # ---------- titles / labels ----------
    r = RECTS[i][0]
    fig.text(r[0] + r[2] / 2, TITLE_Y[i], YEAR_TITLES[i], ha='center', va='center', fontsize=FS_LAB)
    fig.text(LABEL_XY[i][0], LABEL_XY[i][1], PANEL_LABELS[i], ha='center', va='center', fontsize=50)

fig.savefig('out.png', dpi=100, facecolor='white')
